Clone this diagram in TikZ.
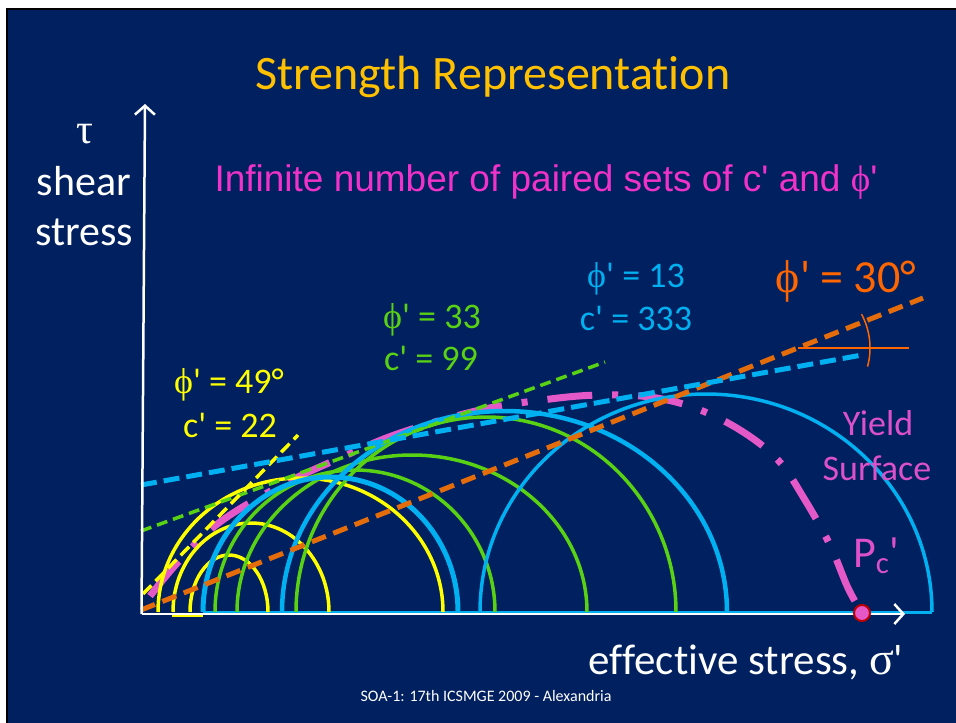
\documentclass[tikz,border=0pt]{standalone}
\usepackage{fontspec}
\setmainfont{Carlito}[Ligatures={TeXOff,CommonOff}]
\newfontfamily\arialf{Liberation Sans}[Ligatures={TeXOff,CommonOff}]
\newfontfamily\symf{Liberation Serif}[Ligatures={TeXOff,CommonOff}]
\usetikzlibrary{arrows.meta}
\definecolor{navy}{RGB}{0,32,96}
\definecolor{gold}{RGB}{255,192,0}
\definecolor{ylw}{RGB}{255,255,0}
\definecolor{grn}{RGB}{90,210,20}
\definecolor{blu}{RGB}{0,176,240}
\definecolor{orgl}{RGB}{228,108,10}
\definecolor{orgt}{RGB}{255,102,0}
\definecolor{magl}{RGB}{228,88,200}
\definecolor{magt}{RGB}{240,50,200}
\definecolor{magy}{RGB}{220,80,200}
\definecolor{dred}{RGB}{192,0,0}
\newcommand\fs[1]{\fontsize{#1}{#1}\selectfont}
\newcommand\phisym{{\symf ϕ}}
\begin{document}
\begin{tikzpicture}[x=1pt,y=-1pt,
  lbl/.style={inner sep=0pt,anchor=base},
  ycirc/.style={draw=ylw,line width=3.5pt},
  gcirc/.style={draw=grn,line width=3.5pt},
  bcirc/.style={draw=blu,line width=3.5pt},
  bcircthick/.style={draw=blu,line width=5pt},
  odash/.style={draw=orgl,line width=5pt,dash pattern=on 15pt off 8pt},
  bdash/.style={draw=blu,line width=5pt,dash pattern=on 16pt off 7pt},
  gdash/.style={draw=grn,line width=3.5pt,dash pattern=on 11pt off 6pt},
  ydash/.style={draw=ylw,line width=3.5pt,dash pattern=on 12pt off 6pt},
  yieldline/.style={draw=magl,line width=7pt,dash pattern=on 45pt off 20pt on 6pt off 20pt},
  axisline/.style={draw=white,line width=2.5pt}
]
\useasboundingbox (0,0) rectangle (956,723);
\fill[white] (0,0) rectangle (956,723);
\fill[navy] (7,9) rectangle (956,723);
\draw[black,line width=2pt] (7,723) -- (7,9) -- (956,9);

% title and headline
\node[lbl,text=gold] (title) at (493,89) {\fs{48}Strength Representation};
\node[lbl,text=magt] (infinite) at (546,191) {\arialf\fs{37}Infinite number of paired sets of c' and {\symf ϕ}'};

% yield surface (drawn first, beneath)
\draw[yieldline] plot[smooth,tension=0.6] coordinates {(150,596) (180,560) (220,522) (280,486) (340,458) (400,433) (480,410) (550,399) (600,395) (650,397) (695,408) (740,430) (778,460) (805,500) (830,545) (848,588) (862,613)};

% baselines of the semicircles
\draw[blu,line width=3pt] (203,612.5) -- (932,612.5);
\draw[ylw,line width=2pt] (172,616) -- (203,616);

% semicircles (Mohr circles)
\draw[ycirc] (190,612) arc[start angle=180,end angle=0,x radius=39pt,y radius=57pt];
\draw[ycirc] (173,612) arc[start angle=180,end angle=0,x radius=78pt,y radius=89pt];
\draw[ycirc] (158,612) arc[start angle=180,end angle=0,x radius=142.5pt,y radius=134pt];
\draw[gcirc] (215,612) arc[start angle=180,end angle=0,x radius=140pt,y radius=142pt];
\draw[gcirc] (237,612) arc[start angle=180,end angle=0,x radius=175pt,y radius=157pt];
\draw[gcirc] (296,612) arc[start angle=180,end angle=0,x radius=190pt,y radius=195pt];
\draw[bcircthick] (203,612) arc[start angle=180,end angle=0,x radius=127.5pt,y radius=135pt];
\draw[bcirc,line width=4.5pt] (282,612) arc[start angle=180,end angle=0,x radius=222.5pt,y radius=201pt];
\draw[bcirc] (480,612) arc[start angle=180,end angle=0,x radius=226pt,y radius=218pt];

% failure envelopes
\coordinate (yS) at (143,594);
\coordinate (yE) at (298,435);
\coordinate (gS) at (141,531);
\coordinate (gE) at (605,362);
\coordinate (oS) at (141,610);
\coordinate (oE) at (923,298);
\coordinate (bS) at (141,485);
\coordinate (bE) at (862,355);
\draw[odash] (oS) -- (oE);
\draw[gdash] (gS) -- (gE);
\draw[ydash] (yS) -- (yE);
\draw[bdash] (bS) -- (bE);

% angle mark
\coordinate (ang) at (798,348);
\coordinate (angE) at (909,348);
\draw[orgt,line width=1.5pt] (ang) -- (angE);
\draw[orgt,line width=1.5pt] ([shift={(28:72pt)}]ang) arc[start angle=28,end angle=-15,radius=72pt];

% axes
\coordinate (origin) at (141.5,614);
\coordinate (ytip) at (145,104);
\coordinate (xtip) at (905,614);
\draw[axisline,-{Straight Barb[length=9pt,width=20pt,line width=2.5pt]}] (origin) -- (ytip);
\draw[axisline,-{Straight Barb[length=9pt,width=20pt,line width=2.5pt]}] (origin) -- (xtip);

% Pc point
\node[circle,fill=magl,draw=dred,line width=2pt,minimum size=16pt,inner sep=0pt] (pc) at (862,613) {};

% axis labels
\node[lbl,text=white] (tau) at (85,143) {\symf\fs{42}τ};
\node[lbl,text=white] (shear) at (84,195) {\fs{42}shear};
\node[lbl,text=white] (stress) at (84,245) {\fs{42}stress};
\node[lbl,text=white] (sigma) at (746,674) {\fs{43}effective stress, {\symf\fs{46}σ}'};

% envelope labels
\node[lbl,text=ylw] (phi49) at (229,393) {\fs{36}\phisym' = 49°};
\node[lbl,text=ylw] (c22) at (230,437) {\fs{36}c' = 22};
\node[lbl,text=grn] (phi33) at (432,328) {\fs{36}\phisym' = 33};
\node[lbl,text=grn] (c99) at (431,370) {\fs{36}c' = 99};
\node[lbl,text=blu] (phi13) at (636,287) {\fs{36}\phisym' = 13};
\node[lbl,text=blu] (c333) at (636,330) {\fs{36}c' = 333};
\node[lbl,text=orgt] (phi30) at (846,292) {\fs{46}\phisym' = 30°};

% yield surface labels
\node[lbl,text=magy] (yield) at (878,435) {\fs{36}Yield};
\node[lbl,text=magy] (surface) at (877,480) {\fs{36}Surface};
\node[lbl,text=magy] (pclabel) at (876,567) {\fs{44}P\textsubscript{c}'};

% footer
\node[lbl,text=white] (footer) at (486,701) {\fs{16}SOA-1: 17th ICSMGE 2009 - Alexandria};
\end{tikzpicture}
\end{document}
